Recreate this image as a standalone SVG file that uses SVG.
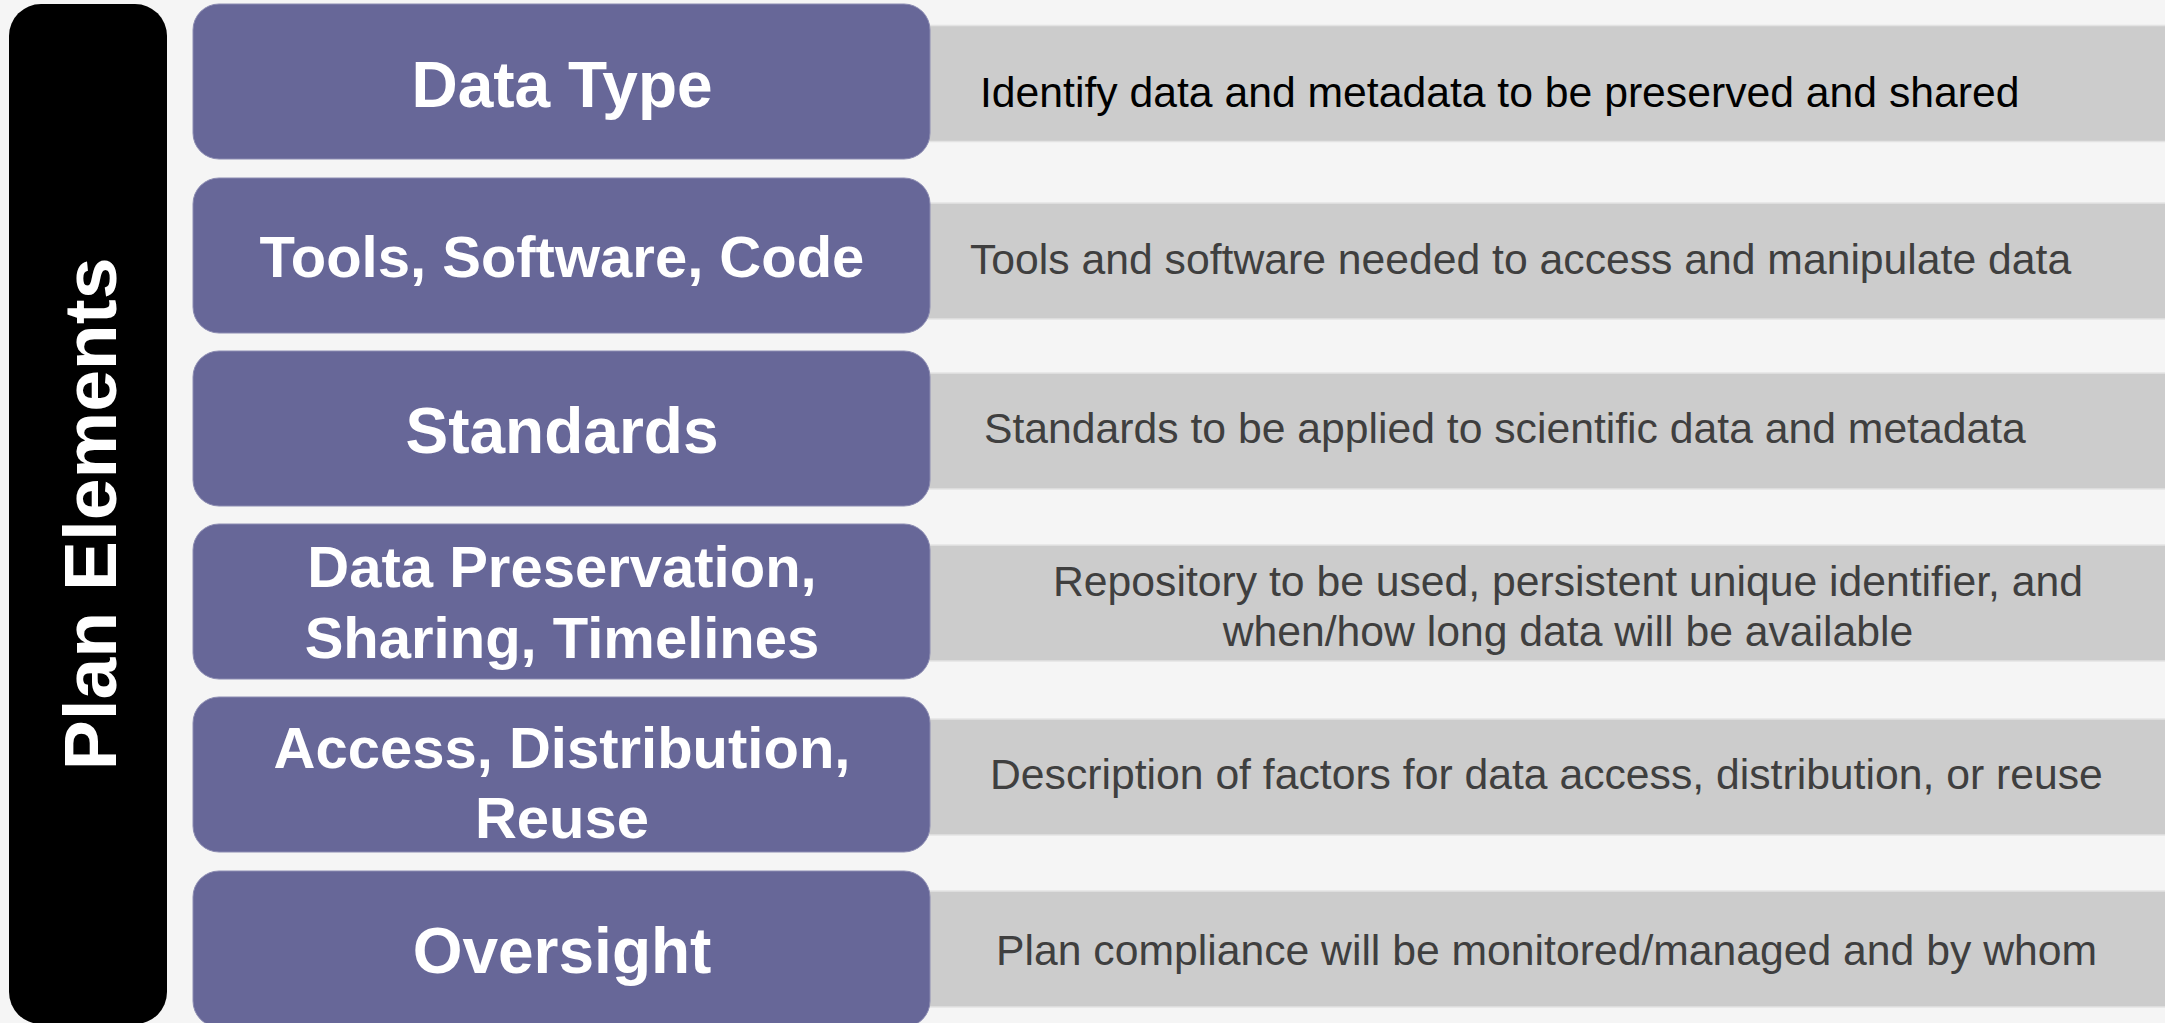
<svg xmlns="http://www.w3.org/2000/svg" width="2165" height="1023" viewBox="0 0 2165 1023">
<style>
.bar{fill:#cccccc;stroke:#e3e3e3;stroke-width:1.5}
.box{fill:#676798;stroke:#8c8cb2;stroke-width:1}
.title{font-family:"Liberation Sans",Arial,sans-serif;font-weight:bold;fill:#ffffff;text-anchor:middle}
.desc{font-family:"Liberation Sans",Arial,sans-serif;font-size:42.7px;fill:#3f3f3f}
</style>
<rect x="0" y="0" width="2165" height="1023" fill="#f5f5f5"/>
<g id="side">
<rect x="9" y="4" width="158" height="1020" rx="32" fill="#000000"/>
<text transform="translate(116,514) rotate(-90)" text-anchor="middle" font-family="Liberation Sans, Arial, sans-serif" font-weight="bold" font-size="75" fill="#ffffff">Plan Elements</text>
</g>
<g id="connectors"></g>
<g id="row1">
<rect class="bar" x="920" y="25.5" width="1250" height="116"/>
<rect class="box" x="193" y="4" width="737" height="155" rx="26"/>
<text class="title" x="562" y="107" font-size="64">Data Type</text>
<text class="desc" x="980" y="107" style="fill:#000000">Identify data and metadata to be preserved and shared</text>
</g>
<g id="row2">
<rect class="bar" x="920" y="203" width="1250" height="116"/>
<rect class="box" x="193" y="178" width="737" height="155" rx="26"/>
<text class="title" x="562" y="277" font-size="58">Tools, Software, Code</text>
<text class="desc" x="970" y="274">Tools and software needed to access and manipulate data</text>
</g>
<g id="row3">
<rect class="bar" x="920" y="373" width="1250" height="116"/>
<rect class="box" x="193" y="351" width="737" height="155" rx="26"/>
<text class="title" x="562" y="453" font-size="64">Standards</text>
<text class="desc" x="984" y="443">Standards to be applied to scientific data and metadata</text>
</g>
<g id="row4">
<rect class="bar" x="920" y="545" width="1250" height="116"/>
<rect class="box" x="193" y="524" width="737" height="155" rx="26"/>
<text class="title" x="562" y="587" font-size="58">Data Preservation,</text>
<text class="title" x="562" y="658" font-size="58">Sharing, Timelines</text>
<text class="desc" x="1568" y="596" text-anchor="middle">Repository to be used, persistent unique identifier, and</text>
<text class="desc" x="1568" y="646" text-anchor="middle">when/how long data will be available</text>
</g>
<g id="row5">
<rect class="bar" x="920" y="719" width="1250" height="116"/>
<rect class="box" x="193" y="697" width="737" height="155" rx="26"/>
<text class="title" x="562" y="768" font-size="58">Access, Distribution,</text>
<text class="title" x="562" y="838" font-size="58">Reuse</text>
<text class="desc" x="990" y="789">Description of factors for data access, distribution, or reuse</text>
</g>
<g id="row6">
<rect class="bar" x="920" y="891" width="1250" height="116"/>
<rect class="box" x="193" y="871" width="737" height="156" rx="26"/>
<text class="title" x="562" y="973" font-size="64">Oversight</text>
<text class="desc" x="996" y="965">Plan compliance will be monitored/managed and by whom</text>
</g>
</svg>
